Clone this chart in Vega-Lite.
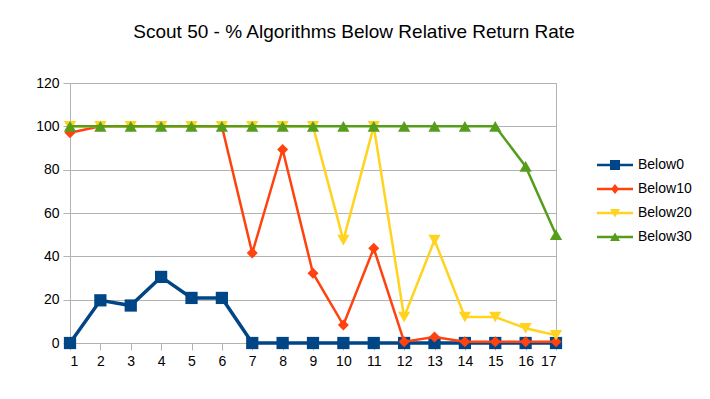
{
  "$schema": "https://vega.github.io/schema/vega-lite/v6.json",
  "autosize": "none",
  "width": 486,
  "height": 260,
  "padding": {"left": 70, "top": 83, "right": 154, "bottom": 56},
  "background": "white",
  "title": {
    "text": "Scout 50 - % Algorithms Below Relative Return Rate",
    "font": "Liberation Sans",
    "fontSize": 19,
    "fontWeight": "normal",
    "color": "black",
    "anchor": "middle",
    "baseline": "alphabetic",
    "dx": 41,
    "offset": 19
  },
  "config": {
    "view": {"stroke": "#b3b3b3", "strokeWidth": 1},
    "axis": {
      "labelFont": "Liberation Sans",
      "labelFontSize": 14,
      "labelColor": "black",
      "domainColor": "#b3b3b3",
      "tickColor": "#b3b3b3",
      "gridColor": "#b3b3b3",
      "tickSize": 7,
      "labelPadding": 4,
      "title": null
    },
    "legend": {
      "labelFont": "Liberation Sans",
      "labelFontSize": 14,
      "labelColor": "black",
      "padding": 0
    }
  },
  "data": {
    "values": [
      {"x": 1, "series": "Below0", "value": 0},
      {"x": 2, "series": "Below0", "value": 19.7},
      {"x": 3, "series": "Below0", "value": 17.3},
      {"x": 4, "series": "Below0", "value": 30.5},
      {"x": 5, "series": "Below0", "value": 20.8},
      {"x": 6, "series": "Below0", "value": 20.8},
      {"x": 7, "series": "Below0", "value": 0},
      {"x": 8, "series": "Below0", "value": 0},
      {"x": 9, "series": "Below0", "value": 0},
      {"x": 10, "series": "Below0", "value": 0},
      {"x": 11, "series": "Below0", "value": 0},
      {"x": 12, "series": "Below0", "value": 0},
      {"x": 13, "series": "Below0", "value": 0},
      {"x": 14, "series": "Below0", "value": 0},
      {"x": 15, "series": "Below0", "value": 0},
      {"x": 16, "series": "Below0", "value": 0},
      {"x": 17, "series": "Below0", "value": 0},
      {"x": 1, "series": "Below10", "value": 97},
      {"x": 2, "series": "Below10", "value": 100},
      {"x": 3, "series": "Below10", "value": 100},
      {"x": 4, "series": "Below10", "value": 100},
      {"x": 5, "series": "Below10", "value": 100},
      {"x": 6, "series": "Below10", "value": 100},
      {"x": 7, "series": "Below10", "value": 41.5},
      {"x": 8, "series": "Below10", "value": 89.3},
      {"x": 9, "series": "Below10", "value": 32.2},
      {"x": 10, "series": "Below10", "value": 8.3},
      {"x": 11, "series": "Below10", "value": 43.7},
      {"x": 12, "series": "Below10", "value": 0.6},
      {"x": 13, "series": "Below10", "value": 2.8},
      {"x": 14, "series": "Below10", "value": 0.6},
      {"x": 15, "series": "Below10", "value": 0.6},
      {"x": 16, "series": "Below10", "value": 0.6},
      {"x": 17, "series": "Below10", "value": 0.6},
      {"x": 1, "series": "Below20", "value": 100},
      {"x": 2, "series": "Below20", "value": 100},
      {"x": 3, "series": "Below20", "value": 100},
      {"x": 4, "series": "Below20", "value": 100},
      {"x": 5, "series": "Below20", "value": 100},
      {"x": 6, "series": "Below20", "value": 100},
      {"x": 7, "series": "Below20", "value": 100},
      {"x": 8, "series": "Below20", "value": 100},
      {"x": 9, "series": "Below20", "value": 100},
      {"x": 10, "series": "Below20", "value": 47.5},
      {"x": 11, "series": "Below20", "value": 100},
      {"x": 12, "series": "Below20", "value": 12},
      {"x": 13, "series": "Below20", "value": 47.5},
      {"x": 14, "series": "Below20", "value": 12},
      {"x": 15, "series": "Below20", "value": 12},
      {"x": 16, "series": "Below20", "value": 6.8},
      {"x": 17, "series": "Below20", "value": 3.6},
      {"x": 1, "series": "Below30", "value": 100},
      {"x": 2, "series": "Below30", "value": 100},
      {"x": 3, "series": "Below30", "value": 100},
      {"x": 4, "series": "Below30", "value": 100},
      {"x": 5, "series": "Below30", "value": 100},
      {"x": 6, "series": "Below30", "value": 100},
      {"x": 7, "series": "Below30", "value": 100},
      {"x": 8, "series": "Below30", "value": 100},
      {"x": 9, "series": "Below30", "value": 100},
      {"x": 10, "series": "Below30", "value": 100},
      {"x": 11, "series": "Below30", "value": 100},
      {"x": 12, "series": "Below30", "value": 100},
      {"x": 13, "series": "Below30", "value": 100},
      {"x": 14, "series": "Below30", "value": 100},
      {"x": 15, "series": "Below30", "value": 100},
      {"x": 16, "series": "Below30", "value": 81.5},
      {"x": 17, "series": "Below30", "value": 50}
    ]
  },
  "encoding": {
    "x": {
      "field": "x",
      "type": "quantitative",
      "scale": {"domain": [1, 17], "nice": false, "zero": false},
      "axis": {"values": [1,2,3,4,5,6,7,8,9,10,11,12,13,14,15,16,17], "grid": false, "format": "d"}
    },
    "y": {
      "field": "value",
      "type": "quantitative",
      "scale": {"domain": [0, 120], "nice": false},
      "axis": {"values": [0, 20, 40, 60, 80, 100, 120], "grid": true}
    },
    "color": {
      "field": "series",
      "type": "nominal",
      "scale": {
        "domain": ["Below0", "Below10", "Below20", "Below30"],
        "range": ["#004586", "#ff420e", "#ffd320", "#579d1c"]
      },
      "legend": null
    },
    "shape": {
      "field": "series",
      "type": "nominal",
      "scale": {
        "domain": ["Below0", "Below10", "Below20", "Below30"],
        "range": ["square", "diamond", "triangle-down", "triangle-up"]
      },
      "legend": null
    }
  },
  "layer": [
    {
      "transform": [{"filter": "datum.series === 'Below0'"}],
      "layer": [
        {"mark": {"type": "line", "strokeWidth": 3.5}},
        {"mark": {"type": "point", "filled": true, "opacity": 1, "size": 150}}
      ]
    },
    {
      "transform": [{"filter": "datum.series === 'Below10'"}],
      "layer": [
        {"mark": {"type": "line", "strokeWidth": 2.5}},
        {"mark": {"type": "point", "filled": true, "opacity": 1, "size": 120}}
      ]
    },
    {
      "transform": [{"filter": "datum.series === 'Below20'"}],
      "layer": [
        {"mark": {"type": "line", "strokeWidth": 2.5}},
        {"mark": {"type": "point", "filled": true, "opacity": 1, "size": 150}}
      ]
    },
    {
      "transform": [{"filter": "datum.series === 'Below30'"}],
      "layer": [
        {"mark": {"type": "line", "strokeWidth": 2.5}},
        {"mark": {"type": "point", "filled": true, "opacity": 1, "size": 150}}
      ]
    },
    {
      "transform": [{"filter": "false"}],
      "mark": {"type": "point", "filled": true, "opacity": 1},
      "encoding": {
        "color": {
          "field": "series",
          "type": "nominal",
          "scale": {
            "domain": ["Below0", "Below10", "Below20", "Below30"],
            "range": ["#004586", "#ff420e", "#ffd320", "#579d1c"]
          },
          "legend": {
            "title": null,
            "orient": "none",
            "legendX": 535,
            "legendY": 72,
            "symbolSize": 400,
            "symbolStrokeWidth": 0,
            "labelOffset": 13,
            "rowPadding": 7
          }
        },
        "shape": {
          "field": "series",
          "type": "nominal",
          "scale": {
            "domain": ["Below0", "Below10", "Below20", "Below30"],
            "range": [
              "M-1.8,-0.13H1.8V0.13H-1.8Z M-0.5,-0.5H0.5V0.5H-0.5Z",
              "M-1.8,-0.13H1.8V0.13H-1.8Z M0,-0.5L0.4,0L0,0.5L-0.4,0Z",
              "M-1.8,-0.13H1.8V0.13H-1.8Z M-0.5,-0.4H0.5L0,0.45Z",
              "M-1.8,-0.13H1.8V0.13H-1.8Z M0,-0.45L0.5,0.4H-0.5Z"
            ]
          },
          "legend": {
            "title": null,
            "orient": "none",
            "legendX": 535,
            "legendY": 72,
            "symbolSize": 400,
            "symbolStrokeWidth": 0,
            "labelOffset": 13,
            "rowPadding": 7
          }
        }
      }
    }
  ],
  "resolve": {"scale": {"color": "independent", "shape": "independent"}}
}
